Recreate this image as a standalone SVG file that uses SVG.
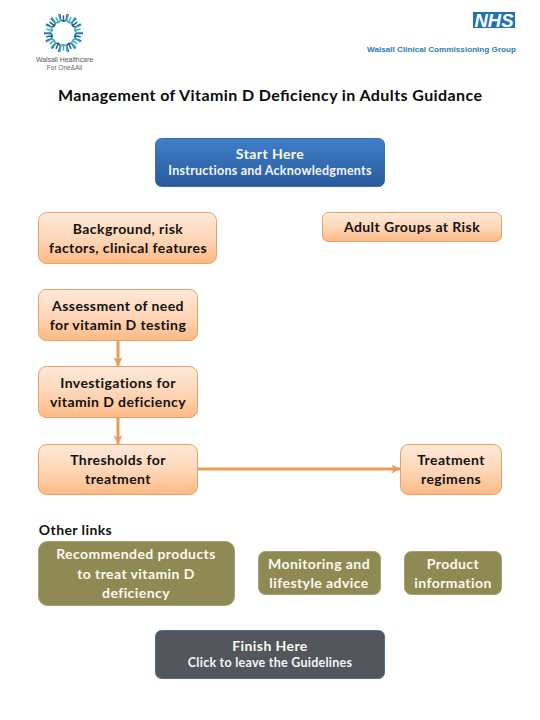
<svg xmlns="http://www.w3.org/2000/svg" xmlns:xlink="http://www.w3.org/1999/xlink" width="540" height="720" viewBox="0 0 540 720">
<style>
text{font-family:Lato,"Open Sans","Liberation Sans",sans-serif;text-anchor:middle}
.t{font-size:14px;font-weight:700;fill:#111;letter-spacing:.42px}
.w{font-size:14px;font-weight:700;fill:#fbfaf0;letter-spacing:.42px}
.s{font-size:12.5px;font-weight:700;fill:#f4f6f8;letter-spacing:.25px}
.o{fill:url(#og);stroke:#e5a368;stroke-width:1}
.k{fill:#8f8a53;stroke:#a5a070;stroke-width:1}
.c{fill:none;stroke:#eb9b58;stroke-width:3}
.u{fill:none;stroke-width:1.5;stroke-linecap:round}
</style>
<defs>
<linearGradient id="og" x1="0" y1="0" x2="0" y2="1"><stop offset="0" stop-color="#fee9da"/><stop offset=".55" stop-color="#fed5b5"/><stop offset="1" stop-color="#fdb983"/></linearGradient>
<linearGradient id="bg" x1="0" y1="0" x2="0" y2="1"><stop offset="0" stop-color="#3f7fcb"/><stop offset="1" stop-color="#2a5a9a"/></linearGradient>
<marker id="a" viewBox="0 0 10 10" refX="9.500" refY="5" markerUnits="userSpaceOnUse" markerWidth="10" markerHeight="10" orient="auto"><path d="M1 .5L9.500 5L1 9.500L3 5Z" fill="#eb9b58"/></marker>
<path id="ud" d="M-3.600 -18.500L-2.800 -13Q0 -10.500 2.800 -13L3.600 -18.500M0 -17V-11.500"/>
</defs>
<g id="logo-left">
<g class="u" stroke="#1f5f80">
<use xlink:href="#ud" transform="translate(63.5 33) rotate(0)"/><use xlink:href="#ud" transform="translate(63.5 33) rotate(51.4)"/><use xlink:href="#ud" transform="translate(63.5 33) rotate(102.9)"/><use xlink:href="#ud" transform="translate(63.5 33) rotate(154.3)"/><use xlink:href="#ud" transform="translate(63.5 33) rotate(205.7)"/><use xlink:href="#ud" transform="translate(63.5 33) rotate(257.1)"/><use xlink:href="#ud" transform="translate(63.5 33) rotate(308.6)"/>
</g>
<g class="u" stroke="#45a9c8">
<use xlink:href="#ud" transform="translate(63.5 33) rotate(25.7)"/><use xlink:href="#ud" transform="translate(63.5 33) rotate(77.1)"/><use xlink:href="#ud" transform="translate(63.5 33) rotate(128.6)"/><use xlink:href="#ud" transform="translate(63.5 33) rotate(180)"/><use xlink:href="#ud" transform="translate(63.5 33) rotate(231.4)"/><use xlink:href="#ud" transform="translate(63.5 33) rotate(282.9)"/><use xlink:href="#ud" transform="translate(63.5 33) rotate(334.3)"/>
</g>
<text x="64.5" y="62" font-size="8" fill="#555" textLength="57" lengthAdjust="spacingAndGlyphs" style="font-family:'Liberation Sans',sans-serif">Walsall Healthcare</text>
<text x="64.5" y="69.500" font-size="6.500" fill="#666" style="font-family:'Liberation Sans',sans-serif">For One&amp;All</text>
</g>
<g id="logo-right">
<rect x="473" y="12" width="42" height="16" fill="#1f72b4"/>
<text x="494" y="26.500" font-size="18.500" font-weight="700" font-style="italic" fill="#fff" textLength="39" lengthAdjust="spacingAndGlyphs" style="font-family:'Liberation Sans',sans-serif">NHS</text>
<text x="441.500" y="52" font-size="8" font-weight="700" fill="#2b7db5" textLength="149" lengthAdjust="spacingAndGlyphs" style="font-family:'Liberation Sans',sans-serif">Walsall Clinical Commissioning Group</text>
</g>
<text id="title" x="270" y="101" font-size="16" font-weight="700" fill="#0a0a0a" textLength="424" lengthAdjust="spacing">Management of Vitamin D Deficiency in Adults Guidance</text>
<g id="connectors">
<path class="c" marker-end="url(#a)" d="M118 341V366"/>
<path class="c" marker-end="url(#a)" d="M118 418V444"/>
<path class="c" marker-end="url(#a)" d="M198 469H400"/>
</g>
<g id="start"><rect x="155.500" y="138.500" width="229" height="48" rx="6" fill="url(#bg)" stroke="#3a6ea8"/>
<text class="w" x="270" y="159">Start Here</text><text class="s" x="270" y="175">Instructions and Acknowledgments</text></g>
<g id="background"><rect class="o" x="38.500" y="212.500" width="178" height="51" rx="8"/>
<text class="t" x="128" y="234">Background, risk</text><text class="t" x="128" y="253">factors, clinical features</text></g>
<g id="adult-groups"><rect class="o" x="322.500" y="212.500" width="179" height="29" rx="6"/>
<text class="t" x="412" y="232">Adult Groups at Risk</text></g>
<g id="assessment"><rect class="o" x="38.500" y="289.500" width="159" height="51" rx="8"/>
<text class="t" x="118" y="311">Assessment of need</text><text class="t" x="118" y="330">for vitamin D testing</text></g>
<g id="investigations"><rect class="o" x="38.500" y="366.500" width="159" height="51" rx="8"/>
<text class="t" x="118" y="388">Investigations for</text><text class="t" x="118" y="407">vitamin D deficiency</text></g>
<g id="thresholds"><rect class="o" x="38.500" y="444.500" width="159" height="50" rx="8"/>
<text class="t" x="118" y="465">Thresholds for</text><text class="t" x="118" y="484">treatment</text></g>
<g id="treatment"><rect class="o" x="400.500" y="444.500" width="101" height="50" rx="8"/>
<text class="t" x="451" y="465">Treatment</text><text class="t" x="451" y="484">regimens</text></g>
<text id="other-links" class="t" x="75.500" y="535">Other links</text>
<g id="recommended"><rect class="k" x="38.500" y="541.500" width="196" height="64" rx="9"/>
<text class="w" x="136" y="559">Recommended products</text><text class="w" x="136" y="579">to treat vitamin D</text><text class="w" x="136" y="598">deficiency</text></g>
<g id="monitoring"><rect class="k" x="258.500" y="551.500" width="122" height="43" rx="7"/>
<text class="w" x="319" y="569">Monitoring and</text><text class="w" x="319" y="588">lifestyle advice</text></g>
<g id="product"><rect class="k" x="404.500" y="551.500" width="97" height="43" rx="7"/>
<text class="w" x="453" y="569">Product</text><text class="w" x="453" y="588">information</text></g>
<g id="finish"><rect x="155.500" y="630.500" width="229" height="48" rx="6" fill="#53565c" stroke="#4f6f8f"/>
<text class="w" x="270" y="651">Finish Here</text><text class="s" x="270" y="667">Click to leave the Guidelines</text></g>
</svg>
